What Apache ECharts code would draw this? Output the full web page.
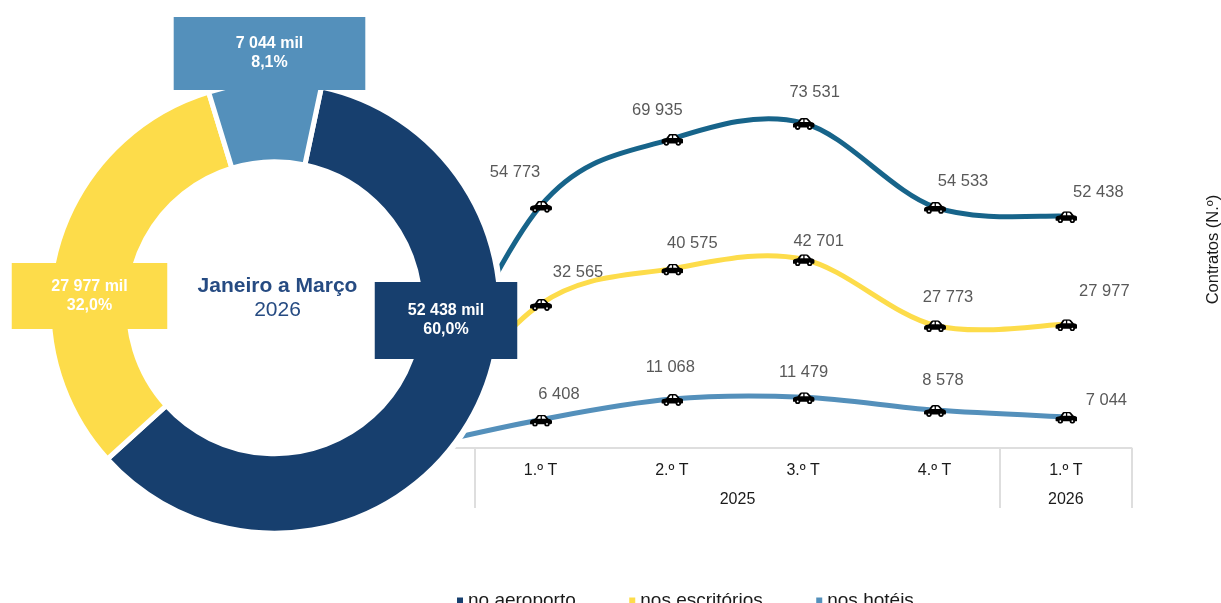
<!DOCTYPE html>
<html><head><meta charset="utf-8">
<style>html,body{margin:0;padding:0;background:#fff;overflow:hidden}#c{width:1221px;height:603px}</style>
<script src="https://cdn.jsdelivr.net/npm/echarts@6/dist/echarts.min.js"></script>
</head><body><div id="c"></div>
<script>
const quarters = ['', '1.º T', '2.º T', '3.º T', '4.º T', '1.º T'];
const years = ['2025', '2026'];
const names = ['no aeroporto', 'nos escritórios', 'nos hotéis'];
const aeroporto = [0, 54773, 69935, 73531, 54533, 52438];
const escritorios = [0, 32565, 40575, 42701, 27773, 27977];
const hoteis = [0, 6408, 11068, 11479, 8578, 7044];
const totals = [52438, 27977, 7044];
const period = 'Janeiro a Março';
const periodYear = '2026';

const font = '"Liberation Sans", Arial, sans-serif';
const ringColors = ['#173f6e', '#fddc4a', '#5490bb'];
const lineColors = ['#17648a', '#fddc4a', '#5490bb'];
const lineWidths = [5, 5, 5];
const fmt = v => String(v).replace(/\B(?=(\d{3})+$)/g, ' ');
const sum = totals.reduce((a, b) => a + b, 0);

const car = 'image://data:image/svg+xml;utf8,' + encodeURIComponent(
  '<svg xmlns="http://www.w3.org/2000/svg" width="88" height="48" viewBox="0 0 22 12">' +
  '<path fill="#000" d="M.8 5.500C2.500 4.700 4 4.300 5 4.100L7.200 1C7.600.4 8.400 0 9.200 0h4.400c.8 0 1.500.3 2.100.9L18.400 4c1.600.3 3.200.8 3.400 1.800.3.8.3 2.200 0 3-.2.4-.6.7-1 .7H1.200C.4 9.500 0 9 0 8.200 0 6.900.2 6 .8 5.500z"/>' +
  '<path fill="#fff" d="M7.300 4 8.800 1.900c.2-.3.400-.4.700-.4h1.100V4zM11.900 1.500h1.500c.4 0 .7.100.9.400L16.100 4h-4.200z"/>' +
  '<circle cx="5" cy="9.200" r="2.700" fill="#000"/><circle cx="5" cy="9.200" r=".9" fill="#fff"/>' +
  '<circle cx="17" cy="9.200" r="2.700" fill="#000"/><circle cx="17" cy="9.200" r=".9" fill="#fff"/>' +
  '</svg>');

const labelOffsets = [
  [[-26, -34], [-15, -29], [11, -32], [28, -27], [32, -25]],
  [[37, -33], [20, -26], [15, -19], [13, -29], [38, -34]],
  [[18, -26], [-2, -33], [0, -26], [8, -31], [40, -17]]
];

function curveSeries(values, idx) {
  return {
    type: 'custom', name: 'curva ' + names[idx], coordinateSystem: 'cartesian2d', z: 2, silent: true,
    data: values.map((v, i) => [i, v]),
    renderItem(params, api) {
      const i = params.dataIndex, n = values.length;
      if (i >= n - 1) return null;
      const p = k => { const c = Math.max(0, Math.min(n - 1, k)); return api.coord([c, values[c]]); };
      const a = p(i - 1), b = p(i), c = p(i + 1), d = p(i + 2);
      return {
        type: 'bezierCurve',
        shape: { x1: b[0], y1: b[1], x2: c[0], y2: c[1],
          cpx1: b[0] + (c[0] - a[0]) / 6, cpy1: b[1] + (c[1] - a[1]) / 6,
          cpx2: c[0] - (d[0] - b[0]) / 6, cpy2: c[1] - (d[1] - b[1]) / 6 },
        style: { stroke: lineColors[idx], lineWidth: lineWidths[idx], fill: null, lineCap: 'round' }
      };
    }
  };
}
function markSeries(values, idx) {
  return {
    type: 'line', name: names[idx], z: 2, lineStyle: { opacity: 0, width: 0 },
    symbol: car, symbolSize: [22, 12], symbolOffset: [0.5, 1], showSymbol: true, showAllSymbol: true,
    data: values.map((v, i) => i === 0
      ? { value: v, symbol: 'none', label: { show: false } }
      : { value: v, label: { show: true, position: 'inside', offset: labelOffsets[idx][i - 1],
          formatter: fmt(v), color: '#595959', fontSize: 16.5, fontFamily: font } })
  };
}
const boxes = [
  { c: [446, 320.5], pad: [21.5, 33, 17.5, 33] },
  { c: [89.5, 296], pad: [15, 39.5, 13, 39.5] },
  { c: [269.5, 53.5], pad: [18.5, 62, 16.5, 62] }
];

const chart = echarts.init(document.getElementById('c'), null, { renderer: 'canvas' });
chart.setOption({
  animation: false,
  backgroundColor: '#fff',
  textStyle: { fontFamily: font },
  title: {
    text: period, subtext: periodYear, left: 272.5, top: 269, textAlign: 'center', itemGap: 0,
    textStyle: { color: '#264b82', fontSize: 21, fontWeight: 'bold', fontFamily: font, lineHeight: 24 },
    subtextStyle: { color: '#264b82', fontSize: 21, fontFamily: font, lineHeight: 24 }
  },
  legend: {
    left: 452, top: 586, itemWidth: 6, itemHeight: 6, itemGap: 53.5, icon: 'rect', selectedMode: false,
    textStyle: { color: '#1a1a1a', fontSize: 19, fontFamily: font },
    data: names.map((n, i) => ({ name: n, itemStyle: { color: ringColors[i] } }))
  },
  grid: { left: 343.5, top: 94.4, width: 788, height: 353.6, containLabel: false },
  xAxis: [
    { type: 'category', data: quarters, boundaryGap: true, position: 'bottom',
      axisLine: { show: true, lineStyle: { color: '#dedede', width: 2 } }, axisTick: { show: false },
      axisLabel: { interval: 0, color: '#1a1a1a', fontSize: 16, fontFamily: font, margin: 15 } },
    { type: 'value', min: 0, max: 6, position: 'bottom', splitLine: { show: false },
      axisLine: { show: false },
      axisTick: { show: true, customValues: [1, 5, 6], length: 60, lineStyle: { color: '#dedede', width: 2 } },
      axisLabel: { show: true, customValues: [3, 5.5], margin: 44, color: '#1a1a1a', fontSize: 16, fontFamily: font,
        formatter: v => (v === 3 ? years[0] : years[1]) } }
  ],
  yAxis: { type: 'value', min: 0, max: 80000, show: false },
  series: [
    curveSeries(aeroporto, 0), curveSeries(escritorios, 1), curveSeries(hoteis, 2),
    markSeries(aeroporto, 0), markSeries(escritorios, 1), markSeries(hoteis, 2),
    { type: 'pie', name: 'fundo', z: 3, silent: true, center: [274.5, 307.7], radius: [0, 229], startAngle: 78,
      label: { show: false }, labelLine: { show: false }, itemStyle: { color: '#fff' },
      data: [{ name: 'fundo', value: 1 }] },
    { type: 'pie', name: 'Contratos', z: 4, center: [274.5, 307.7], radius: [146, 225.5], startAngle: 78, clockwise: true,
      itemStyle: { borderColor: '#fff', borderWidth: 5 },
      labelLine: { show: false },
      labelLayout: p => ({ x: boxes[p.dataIndex].c[0], y: boxes[p.dataIndex].c[1], align: 'center', verticalAlign: 'middle' }),
      data: totals.map((v, i) => ({
        name: names[i], value: v, itemStyle: { color: ringColors[i] },
        label: { show: true, position: 'inside', formatter: fmt(v) + ' mil\n' + (v / sum * 100).toFixed(1).replace('.', ',') + '%',
          color: '#fff', fontSize: 16, fontWeight: 'bold', fontFamily: font, lineHeight: 19, align: 'center',
          backgroundColor: ringColors[i], padding: boxes[i].pad }
      }))
    }
  ],
  graphic: [{ type: 'text', x: 1213, y: 249.5, rotation: Math.PI / 2, z: 10,
    style: { text: 'Contratos (N.º)', fill: '#1a1a1a', fontSize: 16.5, fontFamily: font, align: 'center', verticalAlign: 'middle' } }]
});
</script></body></html>
